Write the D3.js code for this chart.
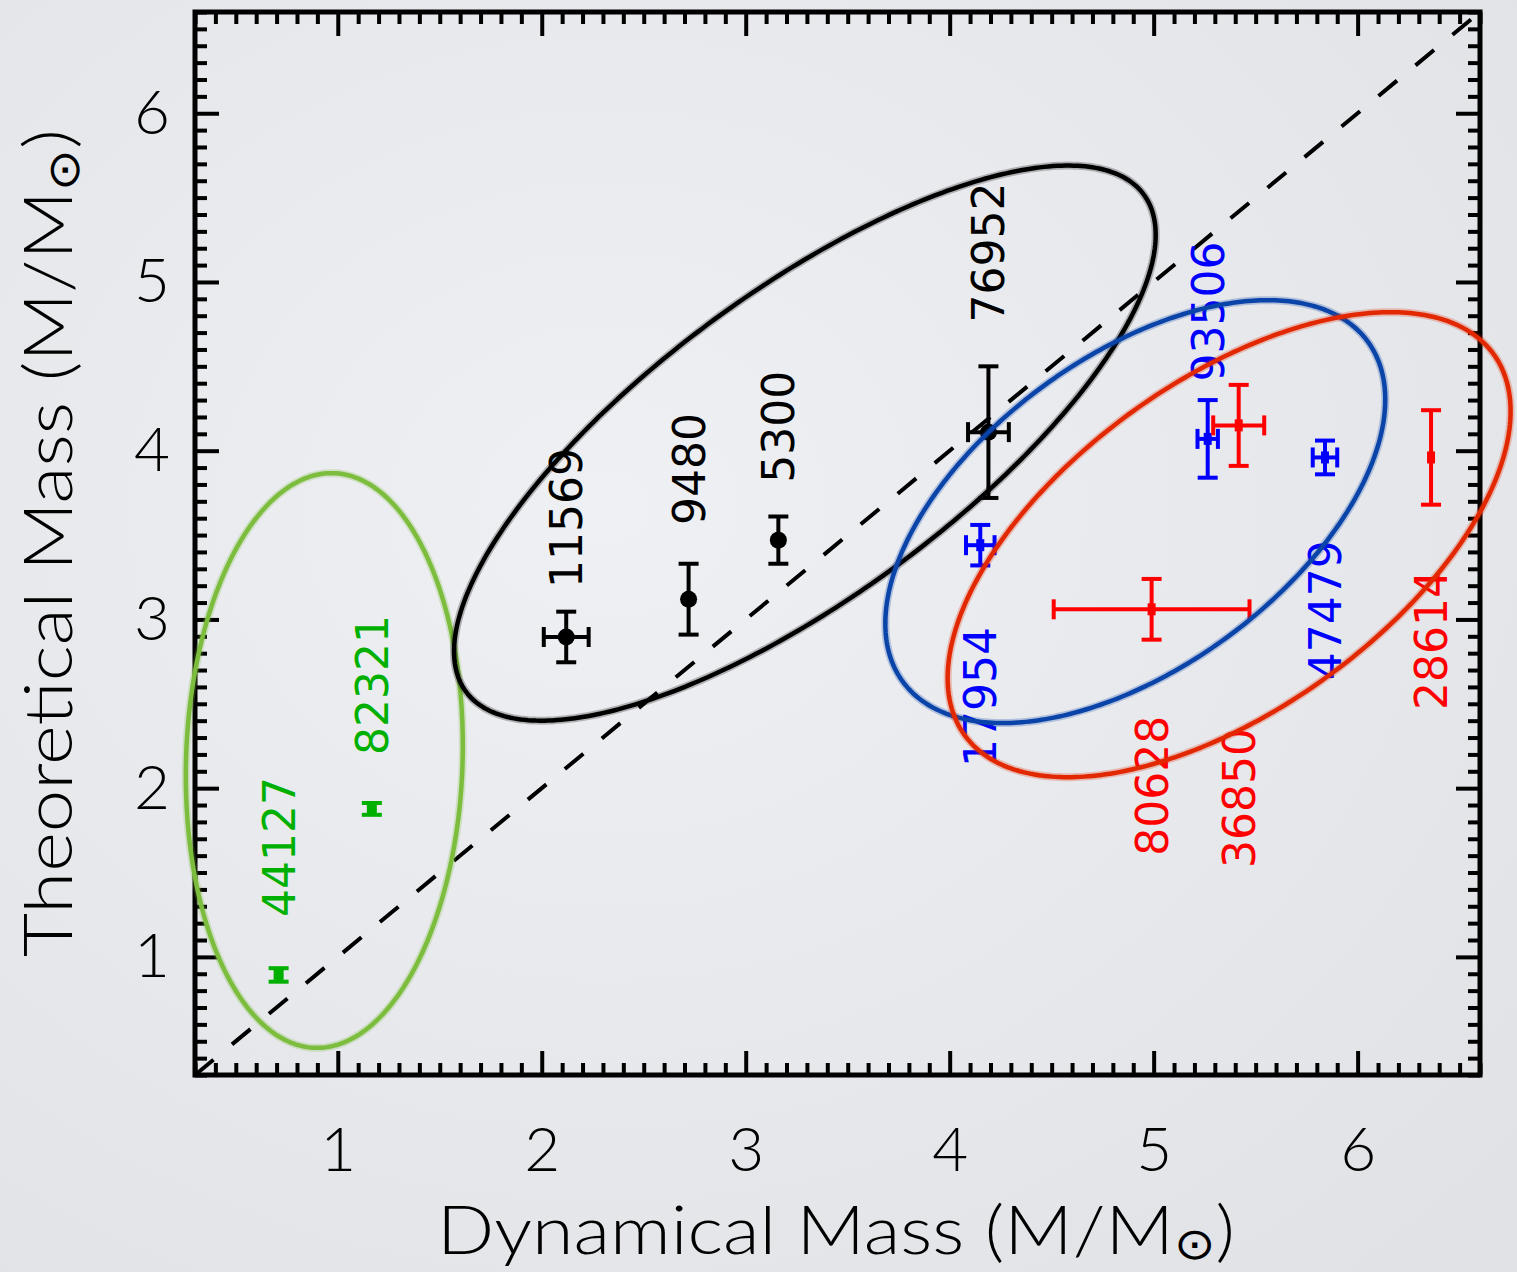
<!DOCTYPE html>
<html>
<head>
<meta charset="utf-8">
<script src="https://cdn.jsdelivr.net/npm/d3@7"></script>
<style>
  html, body { margin: 0; padding: 0; }
  body { width: 1517px; height: 1272px; overflow: hidden; }
</style>
</head>
<body>
<svg id="chart" width="1517" height="1272"></svg>
<script>
// ---------------- data ----------------
const starNames  = ["44127","82321","11569","9480","5300","76952","17954","93506","47479","80628","36850","28614"];
const starGroup  = ["I","I","II","II","II","II","III","III","III","IV","IV","IV"];
const dynMass    = [0.71, 1.167, 2.12, 2.72, 3.16, 4.19, 4.15, 5.265, 5.84, 4.99, 5.417, 6.36];
const dynErr     = [0, 0, 0.11, 0, 0, 0.10, 0.07, 0.05, 0.06, 0.48, 0.125, 0];
const theoMass   = [0.893, 1.877, 2.896, 3.12, 3.47, 4.11, 3.44, 4.07, 3.96, 3.06, 4.15, 3.96];
const theoErr    = [0.04, 0.035, 0.15, 0.21, 0.14, 0.39, 0.12, 0.23, 0.10, 0.18, 0.24, 0.28];
const labelStart = [1.237, 2.197, 3.186, 3.56, 3.81, 4.76, 2.126, 4.41, 2.64, 1.60, 1.527, 2.463];

// confidence ellipses (centre, half-extent in x and y, phase between x and y in degrees)
const ellGroup = ["I","II","III","IV"];
const ellCx    = [0.934, 3.29, 4.91, 5.37];
const ellCy    = [2.164, 4.045, 3.639, 3.443];
const ellAx    = [0.679, 1.72, 1.2255, 1.38];
const ellAy    = [1.703, 1.645, 1.253, 1.378];
const ellPhase = [87, 41.4, 58, 55];

const xDomain = [0.3, 6.6];
const yDomain = [0.3, 6.6];
const xTicks = [1,2,3,4,5,6];
const yTicks = [1,2,3,4,5,6];
const xTitle = "Dynamical Mass (M/M";
const yTitle = "Theoretical Mass (M/M";

// ---------------- styles ----------------
const pointColor = {I:"#00b000", II:"#000000", III:"#0000ff", IV:"#ff0000"};
const ellColor   = {I:"#7cbd3e", II:"#000000", III:"#0a44a8", IV:"#e22800"};

const svg = d3.select("#chart");
const W = 1517, H = 1272;
const L = 195, R = 1480, T = 12, B = 1075;

// background
const defs = svg.append("defs");
const grad = defs.append("radialGradient").attr("id","bg")
  .attr("cx","40%").attr("cy","40%").attr("r","80%");
grad.append("stop").attr("offset","0%").attr("stop-color","#eff0f3");
grad.append("stop").attr("offset","100%").attr("stop-color","#e0e2e6");
svg.append("rect").attr("width",W).attr("height",H).attr("fill","url(#bg)");

const x = d3.scaleLinear().domain(xDomain).range([L, R]);
const y = d3.scaleLinear().domain(yDomain).range([B, T]);

// ticks
const minor = d3.range(3, 67).map(v => v / 10).filter(v => !xTicks.includes(v));
const minorY = d3.range(3, 67).map(v => v / 10).filter(v => !yTicks.includes(v));
function styleAxis(g) {
  g.select(".domain").remove();
  g.selectAll("line").attr("stroke","#000").attr("stroke-width",4);
  g.selectAll("text").remove();
}
svg.append("g").attr("transform",`translate(0,${B})`)
  .call(d3.axisBottom(x).tickValues(xTicks).tickSize(-24)).call(styleAxis);
svg.append("g").attr("transform",`translate(0,${B})`)
  .call(d3.axisBottom(x).tickValues(minor).tickSize(-12)).call(styleAxis);
svg.append("g").attr("transform",`translate(0,${T})`)
  .call(d3.axisTop(x).tickValues(xTicks).tickSize(-24)).call(styleAxis);
svg.append("g").attr("transform",`translate(0,${T})`)
  .call(d3.axisTop(x).tickValues(minor).tickSize(-12)).call(styleAxis);
svg.append("g").attr("transform",`translate(${L},0)`)
  .call(d3.axisLeft(y).tickValues(yTicks).tickSize(-24)).call(styleAxis);
svg.append("g").attr("transform",`translate(${L},0)`)
  .call(d3.axisLeft(y).tickValues(minorY).tickSize(-12)).call(styleAxis);
svg.append("g").attr("transform",`translate(${R},0)`)
  .call(d3.axisRight(y).tickValues(yTicks).tickSize(-24)).call(styleAxis);
svg.append("g").attr("transform",`translate(${R},0)`)
  .call(d3.axisRight(y).tickValues(minorY).tickSize(-12)).call(styleAxis);

// tick labels
const tickFont = "Lato, 'Noto Sans', sans-serif";
const xl = svg.append("g").attr("transform",`translate(0,${B})`)
  .call(d3.axisBottom(x).tickValues(xTicks).tickSize(0).tickPadding(52).tickFormat(d3.format("d")));
xl.select(".domain").remove();
xl.selectAll("text").attr("font-size",62).attr("font-family",tickFont).attr("font-weight",300).attr("fill","#000");
const yl = svg.append("g").attr("transform",`translate(${L},0)`)
  .call(d3.axisLeft(y).tickValues(yTicks).tickSize(0).tickPadding(25).tickFormat(d3.format("d")));
yl.select(".domain").remove();
yl.selectAll("text").attr("font-size",62).attr("font-family",tickFont).attr("font-weight",300).attr("fill","#000");

// frame
svg.append("rect").attr("x",L).attr("y",T).attr("width",R-L).attr("height",B-T)
  .attr("fill","none").attr("stroke","#000").attr("stroke-width",5);

// one-to-one line
svg.append("line")
  .attr("x1",x(xDomain[0])).attr("y1",y(yDomain[0]))
  .attr("x2",x(xDomain[1])).attr("y2",y(yDomain[1]))
  .attr("stroke","#000").attr("stroke-width",4).attr("stroke-dasharray","24 24");

// points with error bars
const pts = starNames.map((n,i) => ({name:n, g:starGroup[i], x:dynMass[i], xe:dynErr[i], y:theoMass[i], ye:theoErr[i], ly:labelStart[i]}));
const cap = 10;
const pg = svg.append("g");
pts.forEach(p => {
  const c = pointColor[p.g];
  const g = pg.append("g").attr("stroke",c).attr("stroke-width",4).attr("fill",c);
  const cx = x(p.x), cy = y(p.y);
  if (p.ye > 0) {
    const y1 = y(p.y + p.ye), y2 = y(p.y - p.ye);
    g.append("line").attr("x1",cx).attr("x2",cx).attr("y1",y1).attr("y2",y2);
    g.append("line").attr("x1",cx-cap).attr("x2",cx+cap).attr("y1",y1).attr("y2",y1);
    g.append("line").attr("x1",cx-cap).attr("x2",cx+cap).attr("y1",y2).attr("y2",y2);
  }
  if (p.xe > 0) {
    const x1 = x(p.x - p.xe), x2 = x(p.x + p.xe);
    g.append("line").attr("x1",x1).attr("x2",x2).attr("y1",cy).attr("y2",cy);
    g.append("line").attr("x1",x1).attr("x2",x1).attr("y1",cy-cap).attr("y2",cy+cap);
    g.append("line").attr("x1",x2).attr("x2",x2).attr("y1",cy-cap).attr("y2",cy+cap);
  }
  if (p.g === "II") {
    g.append("circle").attr("cx",cx).attr("cy",cy).attr("r",8.5).attr("stroke","none");
  } else if (p.g === "I") {
    g.append("rect").attr("x",cx-5).attr("y",cy-5).attr("width",10).attr("height",10).attr("stroke","none");
  } else {
    g.append("rect").attr("x",cx-4).attr("y",cy-6).attr("width",8).attr("height",12).attr("stroke","none");
  }
  // label (rotated)
  pg.append("text")
    .attr("transform",`translate(${cx+16},${y(p.ly)}) rotate(-90)`)
    .attr("font-family","'DejaVu Sans', sans-serif")
    .attr("font-size",44).attr("fill",c).attr("text-anchor","start")
    .text(p.name);
});

// ellipses
const ells = ellGroup.map((g,i) => ({g, cx:ellCx[i], cy:ellCy[i], ax:ellAx[i], ay:ellAy[i], ph:ellPhase[i]*Math.PI/180}));
const line = d3.line().x(d => x(d[0])).y(d => y(d[1])).curve(d3.curveLinearClosed);
const eg = svg.append("g").attr("fill","none");
ells.forEach(e => {
  const ptsE = d3.range(0, 360, 1).map(a => {
    const t = a*Math.PI/180;
    return [e.cx + e.ax*Math.cos(t), e.cy + e.ay*Math.cos(t - e.ph)];
  });
  eg.append("path").attr("d", line(ptsE)).attr("stroke", ellColor[e.g])
    .attr("stroke-width",8).attr("stroke-opacity",0.25);
  eg.append("path").attr("d", line(ptsE)).attr("stroke", ellColor[e.g])
    .attr("stroke-width",4.5);
});

// axis titles
const titleFont = "Lato, 'Noto Sans', sans-serif";
function addTitle(sel, txt, drop) {
  sel.append("tspan").text(txt);
  sel.append("tspan").attr("font-family","'DejaVu Sans', sans-serif").attr("font-size",44).attr("dy",drop).text("\u2299");
  sel.append("tspan").attr("dy",-drop).text(")");
}
const xt = svg.append("text").attr("x",437).attr("y",1254)
  .attr("font-family",titleFont).attr("font-size",67).attr("font-weight",300).attr("fill","#000")
  .attr("textLength",798).attr("lengthAdjust","spacingAndGlyphs");
addTitle(xt, xTitle, 5);
const yt = svg.append("text").attr("transform","translate(72,957) rotate(-90)")
  .attr("font-family",titleFont).attr("font-size",67).attr("font-weight",300).attr("fill","#000")
  .attr("textLength",828).attr("lengthAdjust","spacingAndGlyphs");
addTitle(yt, yTitle, 7);
</script>
</body>
</html>
